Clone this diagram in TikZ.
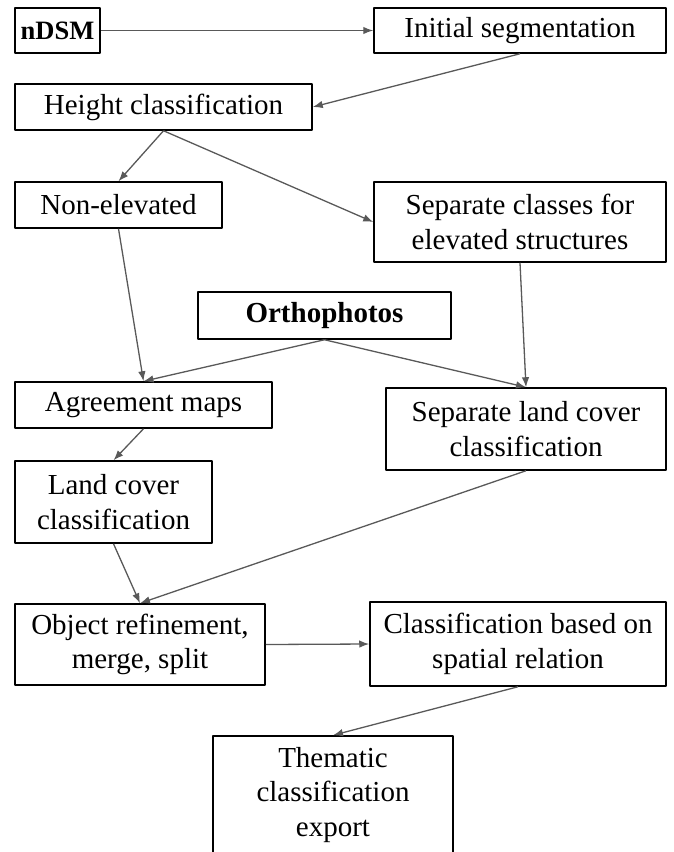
\documentclass[tikz,border=0pt]{standalone}
\usepackage{fontspec}
\setmainfont{Liberation Serif}
\usetikzlibrary{arrows.meta,positioning}
\tikzset{box/.style={draw,line width=1.5pt,inner sep=0pt,align=center,font=\fontsize{29}{34.5}\selectfont},
	arr/.style={draw=black!65,line width=1.3pt,-{Latex[length=10pt,width=7.5pt]}}}
\begin{document}
\begin{tikzpicture}[x=1pt,y=-1pt,line join=round]
		\useasboundingbox (0,0) rectangle (674,852);
		\node[box,minimum width=85,minimum height=45] (ndsm) at (57.5,30.5) {\fontsize{26.5}{30}\selectfont\textbf{nDSM}};
		\node[box,minimum width=292,minimum height=45] (init) at (520,30.5) {Initial segmentation};
		\node[box,minimum width=297,minimum height=46] (height) at (163.5,107) {Height classification};
		\node[box,minimum width=207,minimum height=46] (nonel) at (118.5,205) {Non-elevated};
		\node[box,minimum width=292,minimum height=80] (sepcl) at (520,222) {Separate classes for\\elevated structures};
		\node[box,minimum width=253,minimum height=47] (ortho) at (324.5,315.5) {\textbf{Orthophotos}};
		\node[box,minimum width=257,minimum height=46] (agree) at (143.5,405) {Agreement maps};
		\node[box,minimum width=280,minimum height=82] (seplc) at (526,429) {Separate land cover\\classification};
		\node[box,minimum width=197,minimum height=82] (landc) at (113.5,502) {Land cover\\classification};
		\node[box,minimum width=250,minimum height=81] (refine) at (140,644.5) {Object refinement,\\merge, split};
		\node[box,minimum width=296,minimum height=84] (spatial) at (518,644) {Classification based on\\spatial relation};
		\node[box,minimum width=240,minimum height=118] (export) at (333,795) {Thematic\\classification\\export};
		\foreach \a/\b in {ndsm.east/init.west,init.south/height.east,height.south/nonel.north,height.south/sepcl.west,nonel.south/agree.north,sepcl.south/seplc.north,ortho.south/agree.north,ortho.south/seplc.north,agree.south/landc.north,landc.south/refine.north,seplc.south/refine.north,refine.east/spatial.west,spatial.south/export.north}{\draw[arr](\a)--(\b);}
		\end{tikzpicture}
\end{document}
